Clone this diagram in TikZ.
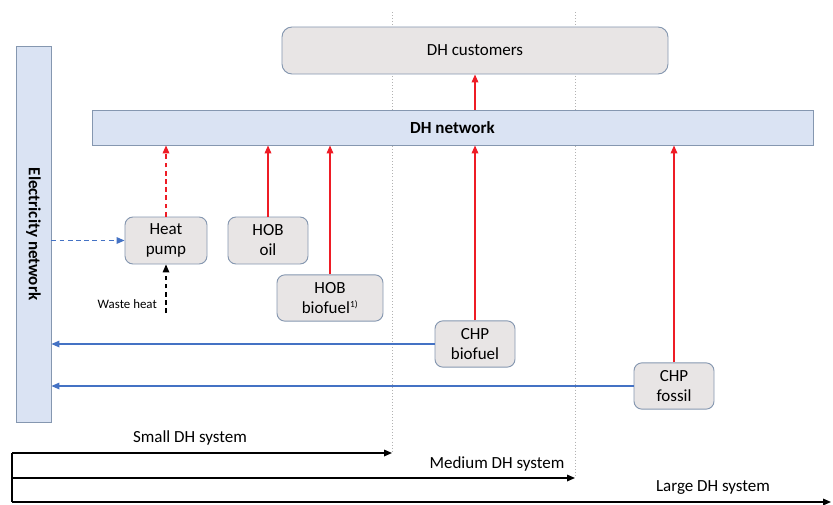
\documentclass[tikz,border=0pt]{standalone}
\usepackage{fontspec}
\setmainfont{Carlito}
\usetikzlibrary{arrows.meta, positioning, calc}

\definecolor{netblue}{HTML}{DAE3F3}
\definecolor{netedge}{HTML}{8597B0}
\definecolor{unitgray}{HTML}{E8E5E5}
\definecolor{heatred}{HTML}{EE1C25}
\definecolor{elecblue}{HTML}{4472C4}

\begin{document}
\begin{tikzpicture}[x=0.03cm, y=-0.03cm,
  >={Triangle[length=2.4mm,width=2mm]},
  every node/.style={font=\fontsize{14.5}{17}\selectfont},
  network/.style={draw=netedge, fill=netblue, line width=0.8pt, inner sep=0pt},
  unit/.style={draw=netedge, fill=unitgray, rounded corners=2.4mm, line width=0.8pt,
               align=center, minimum width=2.4cm, minimum height=1.39cm, inner sep=0pt},
  heat/.style={->, draw=heatred, line width=1.2pt},
  elec/.style={->, draw=elecblue, line width=1pt},
  size/.style={->, line width=1pt},
  bound/.style={draw=gray!60, dotted, line width=0.6pt}]

\useasboundingbox (0,0) rectangle (833,505);

% -----------------------------------------------------
%  size boundaries
% -----------------------------------------------------
\coordinate (s0) at (12,453);  \coordinate (s1) at (392,453);
\coordinate (m0) at (12,478);  \coordinate (m1) at (575,478);
\coordinate (l0) at (12,502);  \coordinate (l1) at (831,502);
\coordinate (stop) at (392,12);
\coordinate (mtop) at (575,12);

\draw[bound] (stop) -- (s1);
\draw[bound] (mtop) -- (m1);

% -----------------------------------------------------
%  networks and customers
% -----------------------------------------------------
\node[network, minimum width=1.05cm, minimum height=11.28cm,
      label={[rotate=-90, font=\fontsize{14.5}{17}\selectfont\bfseries]center:Electricity network}]
      (elnet) at (33.5,234) {};

\node[network, minimum width=21.63cm, minimum height=1.05cm,
      font=\fontsize{14.5}{17}\selectfont\bfseries] (dhnet) at (452.5,127.5) {DH network};

\node[unit, rounded corners=3mm, minimum width=11.58cm, minimum height=1.41cm]
      (cust) at (475,50.5) {DH customers};

% -----------------------------------------------------
%  production units
% -----------------------------------------------------
\node[unit, minimum width=2.46cm, minimum height=1.41cm] (hp) at (166,240.5) {Heat\\pump};
\node[unit, minimum height=1.41cm] (hoboil) at (268,240.5) {HOB\\oil};
\node[unit, minimum width=3.18cm] (hobbio) at (330,298) {HOB\\biofuel\textsuperscript{\footnotesize 1)}};
\node[unit] (chpbio) at (475,344) {CHP\\biofuel};
\node[unit] (chpfos) at (674,386) {CHP\\fossil};

% Heat flows into the DH network
\draw[heat, dash pattern=on 4pt off 3pt] (hp) -- (hp |- dhnet.south);
\draw[heat] (hoboil) -- (hoboil |- dhnet.south);
\draw[heat] (hobbio) -- (hobbio |- dhnet.south);
\draw[heat] (chpbio) -- (chpbio |- dhnet.south);
\draw[heat] (chpfos) -- (chpfos |- dhnet.south);
\draw[heat] (dhnet.north -| cust) -- (cust.south);

% Electricity flows
\draw[elec, dash pattern=on 4pt off 3pt] (elnet.east |- hp.west) -- (hp.west);
\draw[elec] (chpbio.west) -- (chpbio.west -| elnet.east);
\draw[elec] (chpfos.west) -- (chpfos.west -| elnet.east);

% Waste heat
\coordinate (waste) at (166,313);
\draw[->, dash pattern=on 4pt off 3pt, line width=1pt] (waste) -- (hp.south);
\node[font=\fontsize{11}{13}\selectfont, anchor=east] (wastelbl) at (161,304) {Waste heat};

% -----------------------------------------------------
%  system sizes
% -----------------------------------------------------
\draw[size] (s0) -- (s1);
\draw[size] (m0) -- (m1);
\draw[size] (l0) -- (l1);
\draw[line width=1pt] (s0) -- (l0);

\node (smalllbl) at (190,438) {Small DH system};
\node (mediumlbl) at (497,464) {Medium DH system};
\node (largelbl) at (713,488) {Large DH system};

\end{tikzpicture}
\end{document}
